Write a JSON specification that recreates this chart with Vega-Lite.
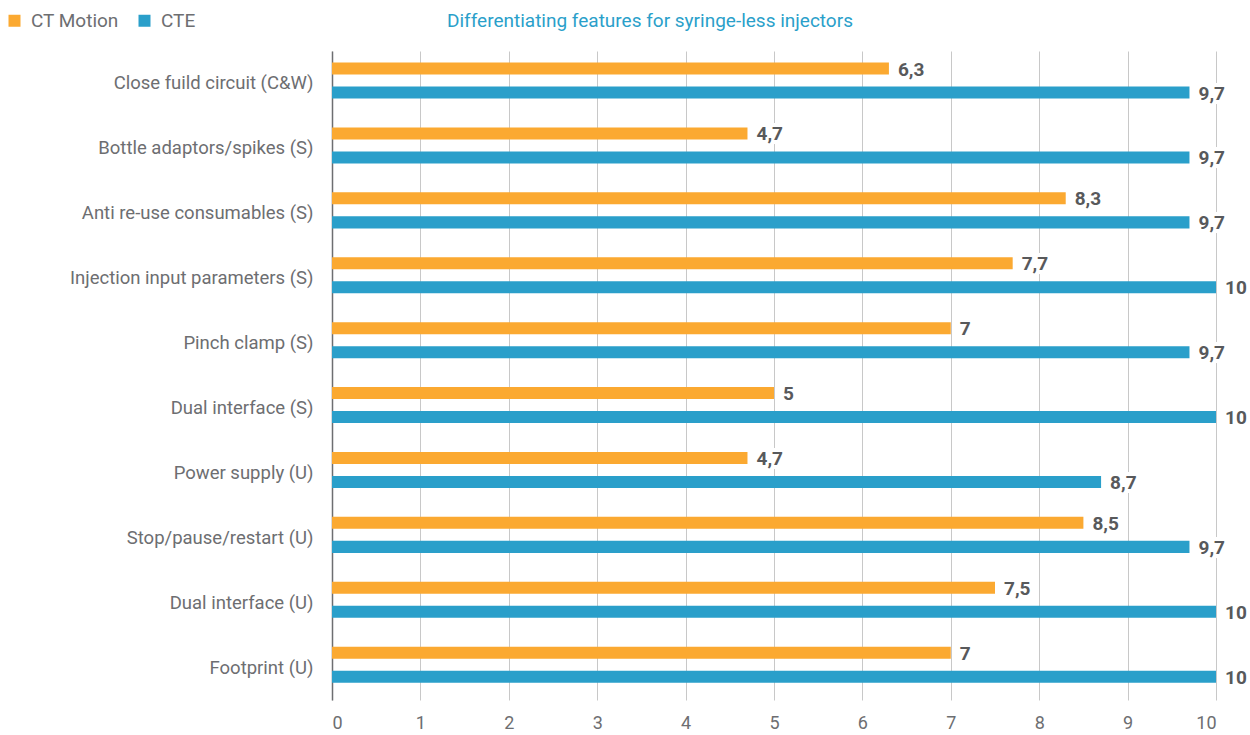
{
  "$schema": "https://vega.github.io/schema/vega-lite/v6.json",
  "autosize": {"type": "none"},
  "padding": {"left": 332, "top": 51, "right": 34, "bottom": 35},
  "width": 884,
  "height": 649,
  "title": {
    "text": "Differentiating features for syringe-less injectors",
    "anchor": "start",
    "frame": "group",
    "dx": 115,
    "dy": 40,
    "offset": 20,
    "color": "#2a9fca",
    "fontSize": 19,
    "fontWeight": "normal",
    "font": "Roboto"
  },
  "data": {
    "values": [
      {"feature": "Close fuild circuit (C&W)", "series": "CT Motion", "value": 6.3},
      {"feature": "Close fuild circuit (C&W)", "series": "CTE", "value": 9.7},
      {"feature": "Bottle adaptors/spikes (S)", "series": "CT Motion", "value": 4.7},
      {"feature": "Bottle adaptors/spikes (S)", "series": "CTE", "value": 9.7},
      {"feature": "Anti re-use consumables (S)", "series": "CT Motion", "value": 8.3},
      {"feature": "Anti re-use consumables (S)", "series": "CTE", "value": 9.7},
      {"feature": "Injection input parameters (S)", "series": "CT Motion", "value": 7.7},
      {"feature": "Injection input parameters (S)", "series": "CTE", "value": 10},
      {"feature": "Pinch clamp (S)", "series": "CT Motion", "value": 7},
      {"feature": "Pinch clamp (S)", "series": "CTE", "value": 9.7},
      {"feature": "Dual interface (S)", "series": "CT Motion", "value": 5},
      {"feature": "Dual interface (S)", "series": "CTE", "value": 10},
      {"feature": "Power supply (U)", "series": "CT Motion", "value": 4.7},
      {"feature": "Power supply (U)", "series": "CTE", "value": 8.7},
      {"feature": "Stop/pause/restart (U)", "series": "CT Motion", "value": 8.5},
      {"feature": "Stop/pause/restart (U)", "series": "CTE", "value": 9.7},
      {"feature": "Dual interface (U)", "series": "CT Motion", "value": 7.5},
      {"feature": "Dual interface (U)", "series": "CTE", "value": 10},
      {"feature": "Footprint (U)", "series": "CT Motion", "value": 7},
      {"feature": "Footprint (U)", "series": "CTE", "value": 10}
    ]
  },
  "encoding": {
    "y": {
      "field": "feature",
      "type": "nominal",
      "sort": null,
      "scale": {"paddingInner": 0, "paddingOuter": 0},
      "axis": {
        "title": null,
        "domain": true,
        "domainColor": "#6d6e71",
        "domainWidth": 1.5,
        "ticks": false,
        "grid": false,
        "labelPadding": 19,
        "labelFontSize": 18.5,
        "labelColor": "#6d6e71",
        "labelFont": "Roboto",
        "labelLimit": 400
      }
    },
    "yOffset": {
      "field": "series",
      "type": "nominal",
      "sort": ["CT Motion", "CTE"],
      "scale": {"paddingInner": 0.5, "paddingOuter": 0.6, "align": 0.4}
    },
    "x": {
      "field": "value",
      "type": "quantitative",
      "scale": {"domain": [0, 10], "nice": false},
      "axis": {
        "title": null,
        "values": [0, 1, 2, 3, 4, 5, 6, 7, 8, 9, 10],
        "domain": false,
        "ticks": false,
        "grid": true,
        "gridColor": "#c8c8c8",
        "gridWidth": 1,
        "labelPadding": 14,
        "labelFontSize": 18,
        "labelColor": "#6d6e71",
        "labelFont": "Roboto"
      }
    }
  },
  "layer": [
    {
      "mark": {"type": "bar"},
      "encoding": {
        "color": {
          "field": "series",
          "type": "nominal",
          "scale": {"domain": ["CT Motion", "CTE"], "range": ["#fba931", "#2a9fca"]},
          "legend": {
            "orient": "none",
            "legendX": -327,
            "legendY": -40,
            "direction": "horizontal",
            "title": null,
            "symbolType": "square",
            "symbolSize": 144,
            "symbolStrokeWidth": 0,
            "labelFontSize": 19,
            "labelColor": "#6d6e71",
            "labelFont": "Roboto",
            "labelOffset": 7,
            "columnPadding": 16
          }
        }
      }
    },
    {
      "mark": {"type": "text", "align": "left", "baseline": "middle", "dx": 9, "dy": 1, "fontSize": 19, "fontWeight": "bold", "font": "Roboto", "stroke": "white", "strokeWidth": 8, "fill": "white"},
      "encoding": {"text": {"field": "value", "type": "quantitative", "format": ".1~f"}}
    },
    {
      "mark": {"type": "text", "align": "left", "baseline": "middle", "dx": 9, "dy": 1, "fontSize": 19, "fontWeight": "bold", "font": "Roboto", "color": "#58595b"},
      "encoding": {"text": {"field": "value", "type": "quantitative", "format": ".1~f"}}
    }
  ],
  "config": {
    "view": {"stroke": null},
    "font": "Roboto",
    "locale": {
      "number": {"decimal": ",", "thousands": ".", "grouping": [3], "currency": ["", " €"]}
    }
  }
}
